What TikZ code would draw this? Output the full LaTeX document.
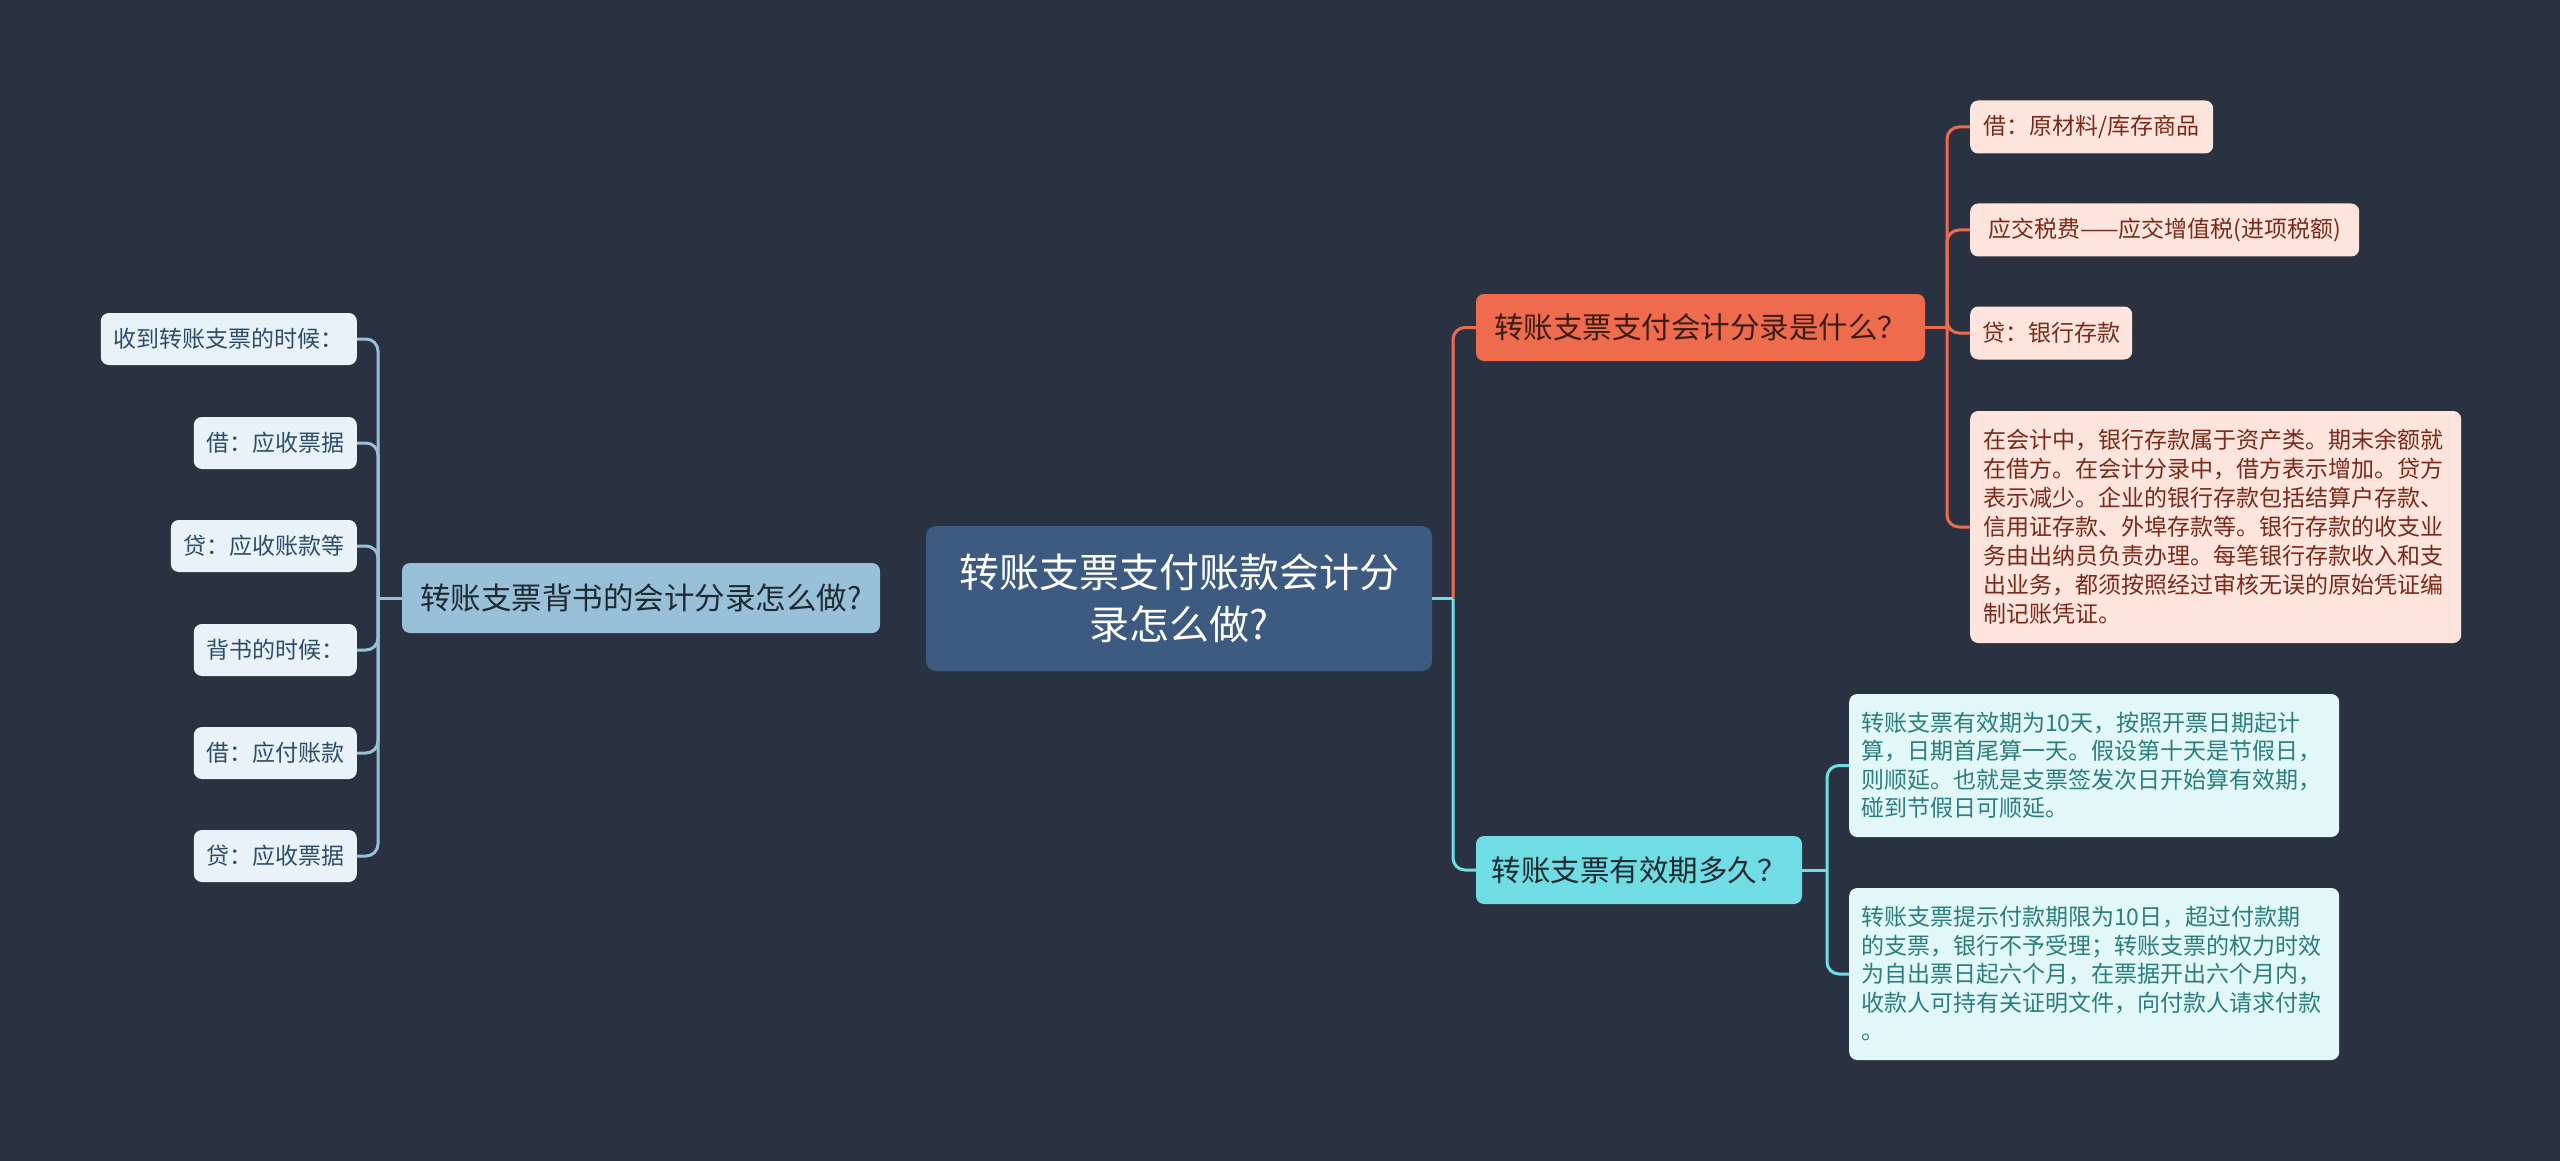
\documentclass[tikz,border=0pt]{standalone}
\usepackage{fontspec}
\setmainfont{Noto Sans CJK SC}
\definecolor{bg}{HTML}{2A3140}
\definecolor{rootc}{HTML}{3D5A80}
\definecolor{lmainc}{HTML}{98C1D9}
\definecolor{lleafc}{HTML}{E9F2F8}
\definecolor{lleaft}{HTML}{2C4D6C}
\definecolor{omainc}{HTML}{EE6C4D}
\definecolor{omaint}{HTML}{3B1D14}
\definecolor{oleafc}{HTML}{FDE4DD}
\definecolor{oleaft}{HTML}{7A2A18}
\definecolor{cmainc}{HTML}{6FDDE3}
\definecolor{cmaint}{HTML}{1E2A30}
\definecolor{cleafc}{HTML}{E2F8F8}
\definecolor{cleaft}{HTML}{2B7D80}
\begin{document}
\begin{tikzpicture}[x=1pt,y=-1pt,
  box/.style={rounded corners=8pt, inner sep=0pt, align=center},
  rootbox/.style={box, rounded corners=10pt, fill=rootc, text=white, font=\fontsize{40pt}{52pt}\selectfont},
  lmainbox/.style={box, fill=lmainc, text=cmaint, font=\fontsize{30.5pt}{36pt}\selectfont},
  lleafbox/.style={box, fill=lleafc, text=lleaft, anchor=east, minimum height=52pt, font=\fontsize{23pt}{26pt}\selectfont},
  omainbox/.style={box, fill=omainc, text=omaint, font=\fontsize{29.5pt}{34pt}\selectfont},
  oleafbox/.style={box, fill=oleafc, text=oleaft, anchor=west, minimum height=53pt, font=\fontsize{23pt}{29pt}\selectfont},
  cmainbox/.style={box, fill=cmainc, text=cmaint, font=\fontsize{29.5pt}{34pt}\selectfont},
  cleafbox/.style={box, fill=cleafc, text=cleaft, anchor=west, align=left, inner xsep=12pt, font=\fontsize{23pt}{28.5pt}\selectfont},
  lline/.style={draw=lmainc, line width=3pt, rounded corners=12pt},
  oline/.style={draw=omainc, line width=3pt, rounded corners=12pt},
  cline/.style={draw=cmainc, line width=3pt, rounded corners=12pt}
]
\fill[bg] (0,0) rectangle (2560,1161);
\useasboundingbox (0,0) rectangle (2560,1161);

% nodes
\node[rootbox, minimum width=506pt, minimum height=145pt] (root) at (1179,598.5) {转账支票支付账款会计分\\录怎么做?};
\node[lmainbox, minimum width=478pt, minimum height=70pt] (lm) at (641,598) {转账支票背书的会计分录怎么做?};

\node[lleafbox, minimum width=256pt] (c1) at (357,339) {收到转账支票的时候：};
\node[lleafbox, minimum width=163pt] (c2) at (357,443) {借：应收票据};
\node[lleafbox, minimum width=186pt] (c3) at (357,546) {贷：应收账款等};
\node[lleafbox, minimum width=163pt] (c4) at (357,650) {背书的时候：};
\node[lleafbox, minimum width=163pt] (c5) at (357,753) {借：应付账款};
\node[lleafbox, minimum width=163pt] (c6) at (357,856) {贷：应收票据};

\node[omainbox, minimum width=449pt, minimum height=67pt] (om) at (1700.5,327.5) {转账支票支付会计分录是什么？};
\node[oleafbox, minimum width=243pt] (o1) at (1970,127) {借：原材料/库存商品};
\node[oleafbox, minimum width=389pt] (o2) at (1970,230) {应交税费——应交增值税(进项税额)};
\node[oleafbox, minimum width=162pt] (o3) at (1970,333) {贷：银行存款};
\node[oleafbox, align=left, inner xsep=13pt, minimum height=232pt, text width=465pt] (o4) at (1970,527) {在会计中，银行存款属于资产类。期末余额就\\在借方。在会计分录中，借方表示增加。贷方\\表示减少。企业的银行存款包括结算户存款、\\信用证存款、外埠存款等。银行存款的收支业\\务由出纳员负责办理。每笔银行存款收入和支\\出业务，都须按照经过审核无误的原始凭证编\\制记账凭证。};

\node[cmainbox, minimum width=326pt, minimum height=68pt] (cm) at (1639,870) {转账支票有效期多久？};
\node[cleafbox, minimum height=143pt, text width=466pt] (k1) at (1849,765.5) {转账支票有效期为10天，按照开票日期起计\\算，日期首尾算一天。假设第十天是节假日，\\则顺延。也就是支票签发次日开始算有效期，\\碰到节假日可顺延。};
\node[cleafbox, minimum height=172pt, text width=466pt] (k2) at (1849,974) {转账支票提示付款期限为10日，超过付款期\\的支票，银行不予受理；转账支票的权力时效\\为自出票日起六个月，在票据开出六个月内，\\收款人可持有关证明文件，向付款人请求付款\\。};

% junction coordinates
\coordinate (lt) at (378,598);
\coordinate (rt) at (1453,598.5);
\coordinate (ot) at (1947,327.5);
\coordinate (ct) at (1827,870);

% connectors
\draw[lline, rounded corners=0pt] (lm.west) -- (lt);
\foreach \n in {c1,c2,c3,c4,c5,c6} \draw[lline] (\n.east) -| (lt);

\draw[oline] (rt) |- (om.west);
\draw[cline] (rt) |- (cm.west);
\draw[cline, rounded corners=0pt] (root.east) -- (rt);

\draw[oline, rounded corners=0pt] (om.east) -- (ot);
\foreach \n in {o1,o2,o3,o4} \draw[oline] (ot) |- (\n.west);

\draw[cline, rounded corners=0pt] (cm.east) -- (ct);
\foreach \n in {k1,k2} \draw[cline] (ct) |- (\n.west);
\end{tikzpicture}
\end{document}
